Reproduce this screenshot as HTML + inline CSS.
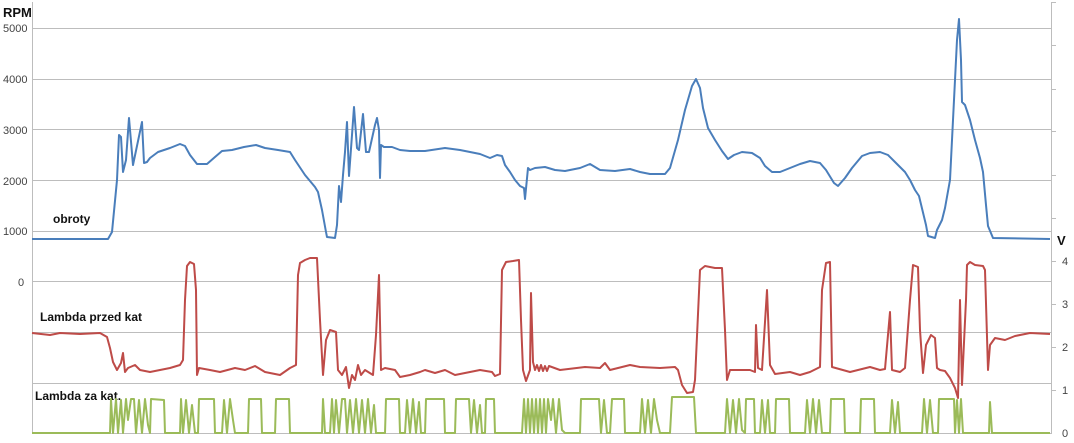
<!DOCTYPE html>
<html><head><meta charset="utf-8"><style>
body{margin:0;background:#fff;}
svg{display:block;font-family:"Liberation Sans",sans-serif;}
</style></head><body>
<svg width="1074" height="443" viewBox="0 0 1074 443">
<g stroke="#bdbdbd" stroke-width="1">
<line x1="32" y1="28.5" x2="1051" y2="28.5"/>
<line x1="32" y1="79.5" x2="1051" y2="79.5"/>
<line x1="32" y1="129.5" x2="1051" y2="129.5"/>
<line x1="32" y1="180.5" x2="1051" y2="180.5"/>
<line x1="32" y1="231.5" x2="1051" y2="231.5"/>
<line x1="32" y1="281.5" x2="1051" y2="281.5"/>
<line x1="32" y1="332.5" x2="1051" y2="332.5"/>
<line x1="32" y1="383.5" x2="1051" y2="383.5"/>
<line x1="32" y1="433.5" x2="1051" y2="433.5"/>
<line x1="32.5" y1="2" x2="32.5" y2="434"/>
<line x1="1051.5" y1="2" x2="1051.5" y2="434"/>
<line x1="1051" y1="2.5" x2="1056" y2="2.5"/>
<line x1="1051" y1="45.5" x2="1056" y2="45.5"/>
<line x1="1051" y1="89.5" x2="1056" y2="89.5"/>
<line x1="1051" y1="131.5" x2="1056" y2="131.5"/>
<line x1="1051" y1="175.5" x2="1056" y2="175.5"/>
<line x1="1051" y1="218.5" x2="1056" y2="218.5"/>
<line x1="1051" y1="261.5" x2="1056" y2="261.5"/>
<line x1="1051" y1="304.5" x2="1056" y2="304.5"/>
<line x1="1051" y1="347.5" x2="1056" y2="347.5"/>
<line x1="1051" y1="390.5" x2="1056" y2="390.5"/>
</g>
<g font-size="11" fill="#444">
<text x="3" y="32">5000</text><text x="3" y="83">4000</text><text x="3" y="134">3000</text>
<text x="3" y="185">2000</text><text x="3" y="235">1000</text><text x="18" y="286">0</text>
<text x="1062" y="265">4</text><text x="1062" y="308">3</text><text x="1062" y="351">2</text>
<text x="1062" y="394">1</text><text x="1062" y="437">0</text>
</g>
<g font-weight="bold" fill="#111">
<text x="3" y="17" font-size="13">RPM</text>
<text x="1057" y="245" font-size="13">V</text>
<text x="53" y="223" font-size="12">obroty</text>
<text x="40" y="321" font-size="12">Lambda przed kat</text>
<text x="35" y="400" font-size="12">Lambda za kat.</text>
</g>
<polyline fill="none" stroke="#4a7ebb" stroke-width="2" stroke-linejoin="round" points="32,239 108,239 112,232 117,180 119,135 121,137 123,172 126,160 129,118 133,165 142,122 144,163 147,162 150,158 158,152 170,148 180,144 185,146 190,155 197,164 207,164 215,157 222,151 232,150 244,147 256,145 265,148 278,150 290,152 295,160 305,175 315,187 318,192 322,210 326,232 327,237 335,238 337,225 339,186 341,202 343,175 345,152 347,122 349,176 352,135 354,107 357,148 359,150 363,114 366,152 369,152 375,125 377,118 379,130 380,178 381,145 384,147 392,147 400,150 410,151 425,151 445,148 460,150 480,154 490,158 497,155 502,156 505,165 510,172 515,180 520,186 524,188 525,199 528,168 530,170 535,168 545,167 555,170 565,171 580,168 590,164 600,170 615,171 630,169 640,172 650,174 665,174 670,168 678,140 685,110 692,86 696,79 700,88 703,108 708,128 715,140 722,151 728,159 734,155 742,152 752,153 760,158 765,166 772,172 780,172 790,168 800,164 810,161 820,163 826,170 834,183 838,186 845,178 852,168 862,156 870,153 880,152 888,155 895,162 905,172 910,180 915,190 919,196 926,225 928,236 935,238 937,230 942,220 945,208 950,180 953,120 955,80 957,40 959,19 961,60 962,102 965,105 970,120 975,140 980,158 983,172 986,205 988,226 993,238 1050,239"/>
<polyline fill="none" stroke="#be4b48" stroke-width="2" stroke-linejoin="round" points="32,333 50,335 60,333 80,334 100,333 107,337 110,348 113,362 117,370 121,363 123,353 125,372 128,368 135,365 140,370 150,372 160,370 170,368 180,365 183,360 185,300 187,266 190,262 194,264 196,290 197,375 199,368 210,370 220,372 235,368 245,370 255,366 265,372 280,375 290,368 296,365 298,275 300,263 305,260 310,258 317,258 320,320 323,375 326,340 330,330 336,332 338,370 342,375 346,367 349,388 352,375 355,380 358,365 361,375 365,370 373,375 376,335 379,275 381,370 385,368 395,370 400,377 410,375 420,372 425,370 435,373 445,370 455,375 465,373 480,370 492,372 495,376 500,374 502,270 506,262 513,261 519,260 521,320 523,370 526,381 530,370 531,293 533,362 535,370 537,365 539,371 541,365 543,371 545,366 547,371 549,366 560,370 585,367 600,368 605,363 610,370 630,365 640,367 660,368 675,367 678,370 682,385 687,393 693,392 695,380 700,270 705,266 715,268 722,268 725,330 727,380 730,370 735,370 750,370 755,372 756,325 758,368 762,370 767,290 770,365 775,374 790,372 800,375 810,372 820,367 822,290 826,263 830,262 832,367 850,372 870,367 880,370 885,369 890,312 892,370 900,372 905,368 910,300 913,265 918,267 920,330 923,373 926,345 931,335 935,338 937,368 940,370 945,371 950,378 955,388 958,398 960,300 962,385 966,300 967,265 970,262 975,265 983,266 985,270 988,370 990,345 995,338 1005,340 1015,336 1030,333 1050,334"/>
<path fill="none" stroke="#9bbb59" stroke-width="2" stroke-linejoin="round" d="M32,433 L110,433 L111,399 L113,433 L116,399 L118,433 L121,400 L123,433 L126,399 L128,420 L131,399 L134,399 L136,433 L139,400 L142,433 L145,399 L148,425 L150,433 L151,399 L164,400 L165,433 L180,433 L181,399 L183,433 L186,400 L189,433 L192,405 L195,433 L198,433 L199,399 L214,399 L215,433 L222,433 L224,400 L227,433 L230,399 L233,420 L235,433 L248,433 L249,399 L261,399 L262,433 L275,433 L276,399 L289,399 L290,433 L322,433 L323,399 L325,433 L330,433 L332,399 L334,433 L336,400 L339,433 L342,399 L345,399 L347,433 L350,400 L353,433 L356,399 L359,433 L362,400 L365,433 L368,399 L371,433 L374,405 L376,433 L385,433 L386,399 L399,399 L400,433 L405,433 L407,400 L410,433 L413,399 L416,433 L419,402 L421,433 L425,433 L426,399 L444,399 L445,433 L455,433 L456,399 L469,399 L471,433 L474,400 L477,433 L480,405 L482,433 L485,433 L486,399 L494,399 L495,433 L522,433 L524,399 L526,433 L528,399 L530,433 L532,399 L534,433 L536,399 L538,433 L540,399 L542,433 L544,399 L546,433 L548,399 L551,420 L553,399 L556,433 L559,399 L562,430 L565,433 L580,433 L581,399 L599,399 L601,433 L604,400 L607,433 L610,433 L612,399 L624,399 L625,433 L640,433 L642,399 L645,433 L648,400 L651,433 L654,399 L657,420 L660,433 L670,433 L672,397 L694,397 L696,433 L725,433 L727,399 L730,433 L733,400 L736,433 L739,399 L742,430 L745,433 L746,399 L754,399 L755,433 L760,433 L762,400 L765,433 L768,400 L770,433 L775,433 L776,399 L789,399 L790,433 L805,433 L807,400 L810,433 L813,399 L816,433 L819,400 L822,433 L830,433 L831,399 L844,399 L845,433 L860,433 L861,399 L874,399 L875,433 L890,433 L892,400 L895,433 L898,402 L900,433 L922,433 L924,399 L927,433 L930,400 L933,433 L938,433 L939,399 L954,399 L955,433 L957,400 L959,433 L961,399 L963,433 L989,433 L990,402 L992,433 L1050,433"/>
</svg>
</body></html>
